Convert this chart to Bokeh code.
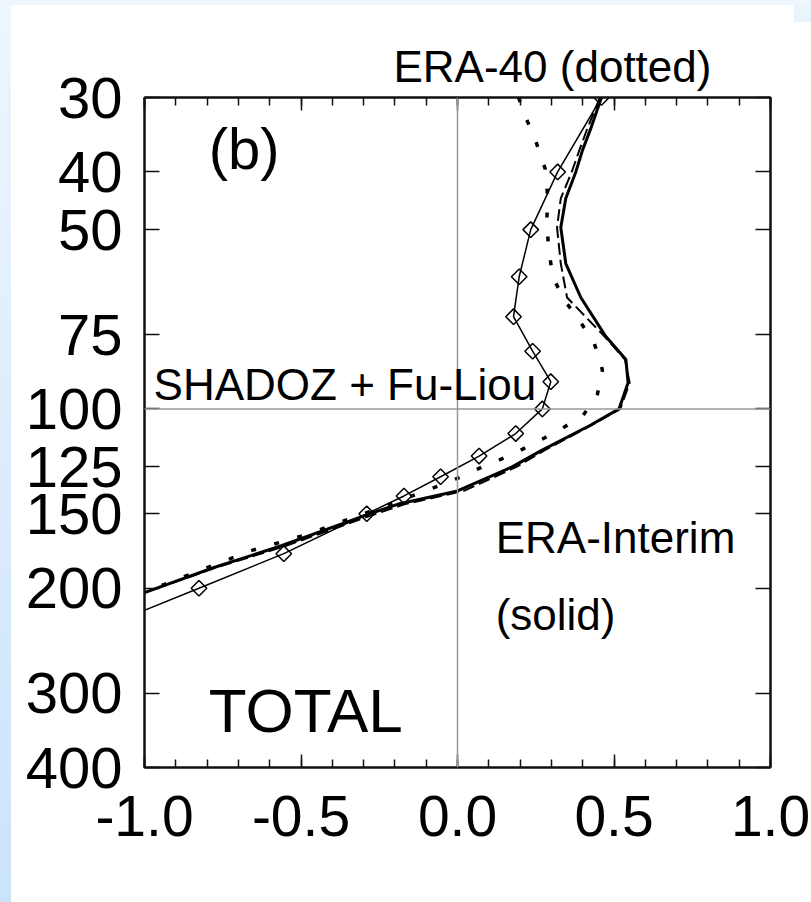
from bokeh.plotting import figure
from bokeh.models import (Range1d, FixedTicker, LinearAxis, LogAxis, Span, Label,
                          PrintfTickFormatter)
from bokeh.embed import file_html
from bokeh.resources import INLINE

# ---------------- data ----------------
pressure_ticks = [30, 40, 50, 75, 100, 125, 150, 200, 300, 400]
x_major_ticks = [-1.0, -0.5, 0.0, 0.5, 1.0]
x_minor_ticks = [-1.0, -0.9, -0.8, -0.7, -0.6, -0.5, -0.4, -0.3, -0.2, -0.1, 0.0,
                 0.1, 0.2, 0.3, 0.4, 0.5, 0.6, 0.7, 0.8, 0.9, 1.0]

# ERA-Interim (solid)
erai_p = [30, 33.8, 36.7, 40, 44.3, 49.6, 57.0, 65.0, 75.6, 82.6, 90.4, 100, 106.4,
          117.6, 125, 137.3, 144.6, 151.2, 169.9, 184.6, 203.4]
erai_x = [0.46, 0.426, 0.40, 0.378, 0.346, 0.33, 0.346, 0.394, 0.474, 0.538, 0.545,
          0.516, 0.426, 0.266, 0.176, 0.0, -0.192, -0.299, -0.565, -0.778, -1.0]

# ERA-Interim second member (dashed, nearly coincident)
erai2_p = [30, 33.8, 36.7, 40, 44.3, 49.6, 57.0, 65.0, 75.6, 82.6, 90.4, 100, 106.4,
           117.6, 125, 137.3, 144.6, 151.2, 169.9, 184.6, 203.4]
erai2_x = [0.455, 0.415, 0.39, 0.365, 0.33, 0.318, 0.33, 0.35, 0.47, 0.535, 0.55,
           0.52, 0.43, 0.275, 0.19, 0.02, -0.17, -0.28, -0.55, -0.77, -1.0]

# ERA-40 (dotted)
era40_p = [30, 32.4, 35.5, 39.5, 44, 49, 54, 60, 65.6, 71, 77.6, 86, 94.5, 102.8,
           108.5, 113.9, 119.9, 124.7, 130.4, 135.6, 149.3, 163, 173, 203]
era40_x = [0.195, 0.218, 0.25, 0.28, 0.288, 0.285, 0.292, 0.304, 0.341, 0.389, 0.437,
           0.463, 0.447, 0.40, 0.325, 0.25, 0.165, 0.085, 0.005, -0.075, -0.29,
           -0.49, -0.66, -1.0]

# SHADOZ + Fu-Liou (thin line with diamonds)
shadoz_p = [30, 40, 50, 60, 70, 80, 90, 100, 110, 120, 130, 140, 150, 175, 200, 250]
shadoz_x = [0.46, 0.32, 0.234, 0.197, 0.179, 0.24, 0.298, 0.271, 0.186, 0.069,
            -0.054, -0.171, -0.29, -0.555, -0.826, -1.28]

FONT = "Liberation Sans"

p = figure(width=811, height=902,
           x_range=Range1d(-1.0, 1.0), y_range=Range1d(400, 30),
           y_axis_type="log",
           output_backend="svg", toolbar_location=None,
           min_border_left=144, min_border_right=41,
           min_border_top=97, min_border_bottom=135)

p.xgrid.visible = False
p.ygrid.visible = False
p.background_fill_color = "white"
p.border_fill_color = None
p.outline_line_color = "#111111"
p.outline_line_width = 2

p.styles = {
    "background": (
        "linear-gradient(to bottom, #eef6fe, #cbe3fb) left top / 11px 100% no-repeat, "
        "linear-gradient(#eef6fe, #eef6fe) left top / 100% 5px no-repeat, "
        "linear-gradient(#eaf4fd, #eaf4fd) right top / 17px 22px no-repeat, "
        "white"
    )
}

# title used for the "ERA-40 (dotted)" caption above the frame
p.title.text = "ERA-40 (dotted)"
p.title.text_font = FONT
p.title.text_font_size = "44px"
p.title.text_font_style = "normal"
p.title.text_color = "black"
p.title.align = "left"
p.title.offset = 249
p.title.standoff = 14


def style_axis(ax, show_labels, minor_len=0):
    ax.axis_line_color = "#111111"
    ax.axis_line_width = 2
    ax.major_tick_line_color = "#111111"
    ax.major_tick_line_width = 1.5
    ax.minor_tick_line_color = "#111111"
    ax.minor_tick_line_width = 1.5
    ax.major_tick_out = 0
    ax.minor_tick_out = 0
    ax.minor_tick_in = minor_len
    if not show_labels:
        ax.major_label_text_font_size = "1px"
        ax.major_label_text_color = None
        ax.major_label_standoff = 0


# y axes
yl = p.yaxis[0]
yl.ticker = FixedTicker(ticks=pressure_ticks, minor_ticks=[])
yl.formatter = PrintfTickFormatter(format="%d")
style_axis(yl, True)
yl.major_tick_in = 15
yl.major_label_text_font = FONT
yl.major_label_text_font_size = "58px"
yl.major_label_text_color = "black"
yl.major_label_standoff = 22

yr = LogAxis(ticker=FixedTicker(ticks=pressure_ticks, minor_ticks=[]))
style_axis(yr, False)
yr.major_tick_in = 15
p.add_layout(yr, "right")

# x axes
xb = p.xaxis[0]
xb.ticker = FixedTicker(ticks=x_major_ticks, minor_ticks=x_minor_ticks)
xb.formatter = PrintfTickFormatter(format="%.1f")
style_axis(xb, True, minor_len=8)
xb.major_tick_in = 13
xb.major_label_text_font = FONT
xb.major_label_text_font_size = "57px"
xb.major_label_text_color = "black"
xb.major_label_standoff = 28

xt = LinearAxis(ticker=FixedTicker(ticks=x_major_ticks, minor_ticks=x_minor_ticks))
style_axis(xt, False, minor_len=8)
xt.major_tick_in = 13
p.add_layout(xt, "above")

# reference lines
p.add_layout(Span(location=0, dimension="height", line_color="#999999", line_width=1.5))
p.add_layout(Span(location=100, dimension="width", line_color="#999999", line_width=1.5))

# curves
p.line(era40_x, era40_p, line_color="black", line_width=3.5, line_dash="5 19")
p.line(erai2_x, erai2_p, line_color="black", line_width=2, line_dash="12 5")
p.line(erai_x, erai_p, line_color="black", line_width=3)
p.line(shadoz_x, shadoz_p, line_color="black", line_width=1.5)
p.scatter(shadoz_x, shadoz_p, marker="square", angle=0.785398, size=11,
          fill_color=None, line_color="black", line_width=1.5)


# annotations inside the frame
def add_label(x, y, text, size):
    p.add_layout(Label(x=x, y=y, text=text, text_font=FONT, text_font_size=size,
                       text_color="black", text_align="left",
                       text_baseline="alphabetic"))


add_label(-0.795, 36.6, "(b)", "58px")
add_label(-0.971, 91.1, "SHADOZ + Fu-Liou", "44px")
add_label(0.122, 164.6, "ERA-Interim", "44px")
add_label(0.122, 221.7, "(solid)", "44px")
add_label(-0.795, 320.4, "TOTAL", "62px")

open("out.html", "w").write(file_html(p, INLINE))
